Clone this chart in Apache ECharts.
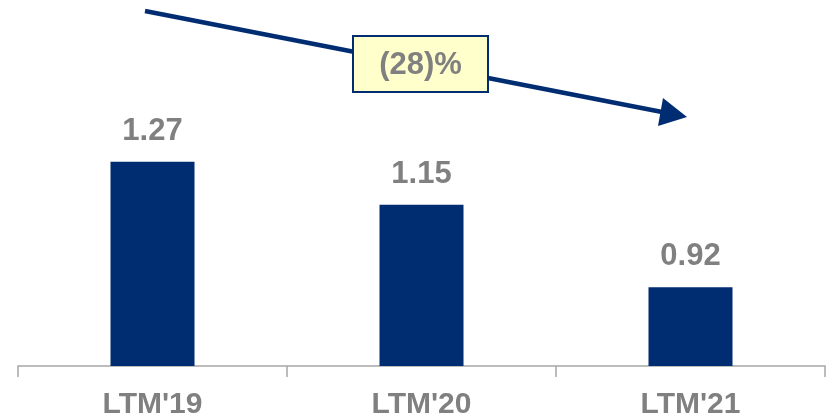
<!DOCTYPE html>
<html>
<head>
<meta charset="utf-8">
<script src="https://cdn.jsdelivr.net/npm/echarts@6/dist/echarts.min.js"></script>
<style>
  html, body { margin: 0; padding: 0; background: #fff; }
  #chart { width: 827px; height: 420px; }
</style>
</head>
<body>
<div id="chart"></div>
<script>
const categories = ["LTM'19", "LTM'20", "LTM'21"];
const values = [1.27, 1.15, 0.92];
const change_label = '(28)%';

const navy = '#002D72';
const grey_text = '#808080';

let chart = echarts.init(document.getElementById('chart'));

let option = {
    animation: false,
    grid: {
        left: 18,
        right: 2,
        top: 19,
        bottom: 53,
    },
    xAxis: {
        type: 'category',
        data: categories,
        axisLine: { lineStyle: { color: '#a6a6a6', width: 1.5 } },
        axisTick: { show: true, length: 11, lineStyle: { color: '#a6a6a6', width: 1.5 } },
        axisLabel: {
            margin: 24,
            color: grey_text,
            fontFamily: 'Liberation Sans',
            fontWeight: 'bold',
            fontSize: 30,
        },
    },
    yAxis: {
        type: 'value',
        show: false,
        min: 0.7,
        max: 1.668,
        splitLine: { show: false },
    },
    series: [
        {
            type: 'bar',
            data: values,
            barWidth: 84,
            itemStyle: { color: navy },
            label: {
                show: true,
                position: 'top',
                distance: 15,
                color: grey_text,
                fontFamily: 'Liberation Sans',
                fontWeight: 'bold',
                fontSize: 31,
                formatter: (p) => p.value.toFixed(2),
            },
        },
    ],
    // trend arrow and change box
    graphic: [
        {
            type: 'line',
            shape: { x1: 145, y1: 11, x2: 662, y2: 112 },
            style: { stroke: navy, lineWidth: 4.5 },
            z: 10,
        },
        {
            type: 'polygon',
            shape: { points: [[687, 117], [663, 98], [658, 126]] },
            style: { fill: navy },
            z: 10,
        },
        {
            type: 'rect',
            shape: { x: 353, y: 36, width: 135, height: 56 },
            style: { fill: '#FFFFCC', stroke: navy, lineWidth: 2 },
            z: 11,
        },
        {
            type: 'text',
            x: 420.5,
            y: 65,
            style: {
                text: change_label,
                fill: grey_text,
                font: 'bold 31px "Liberation Sans"',
                align: 'center',
                verticalAlign: 'middle',
            },
            z: 12,
        },
    ],
};

chart.setOption(option);
</script>
</body>
</html>
